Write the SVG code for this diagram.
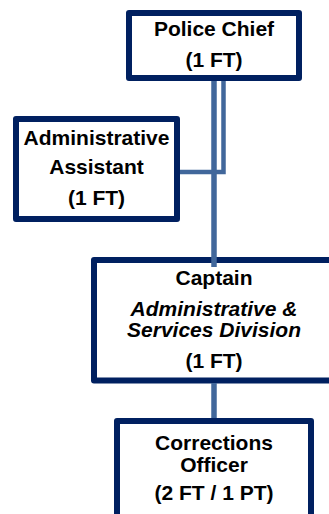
<svg xmlns="http://www.w3.org/2000/svg" width="329" height="514" viewBox="0 0 329 514">
<style>
.box{fill:#ffffff;stroke:#002060;stroke-width:6;stroke-linejoin:round}
.t{font-family:"Liberation Sans",Arial,sans-serif;font-weight:bold;font-size:21px;fill:#000000;text-anchor:middle}
.i{font-style:italic}
.c{fill:none;stroke:#41679B}
</style>
<g id="chief">
<rect class="box" x="129" y="13" width="170" height="65"/>
<text class="t" x="214" y="36">Police Chief</text>
<text class="t" x="214" y="67">(1 FT)</text>
</g>
<g id="assistant">
<rect class="box" x="16" y="119" width="161" height="100"/>
<text class="t" x="96.5" y="145">Administrative</text>
<text class="t" x="96.5" y="174">Assistant</text>
<text class="t" x="96.5" y="205">(1 FT)</text>
</g>
<g id="captain">
<rect class="box" x="94" y="260" width="240" height="120.5"/>
<text class="t" x="214" y="285">Captain</text>
<text class="t i" x="214" y="316">Administrative &amp;</text>
<text class="t i" x="214" y="337">Services Division</text>
<text class="t" x="214" y="368">(1 FT)</text>
</g>
<g id="corrections">
<rect class="box" x="117" y="421" width="194" height="120"/>
<text class="t" x="214" y="450">Corrections</text>
<text class="t" x="214" y="472">Officer</text>
<text class="t" x="214" y="500">(2 FT / 1 PT)</text>
</g>
<g id="connectors">
<line class="c" x1="214" y1="81" x2="214" y2="267" stroke-width="5.5"/>
<polyline class="c" points="223.5,81 223.5,172 180,172" stroke-width="4.5"/>
<line class="c" x1="214" y1="383" x2="214" y2="418" stroke-width="5.5"/>
</g>
</svg>
